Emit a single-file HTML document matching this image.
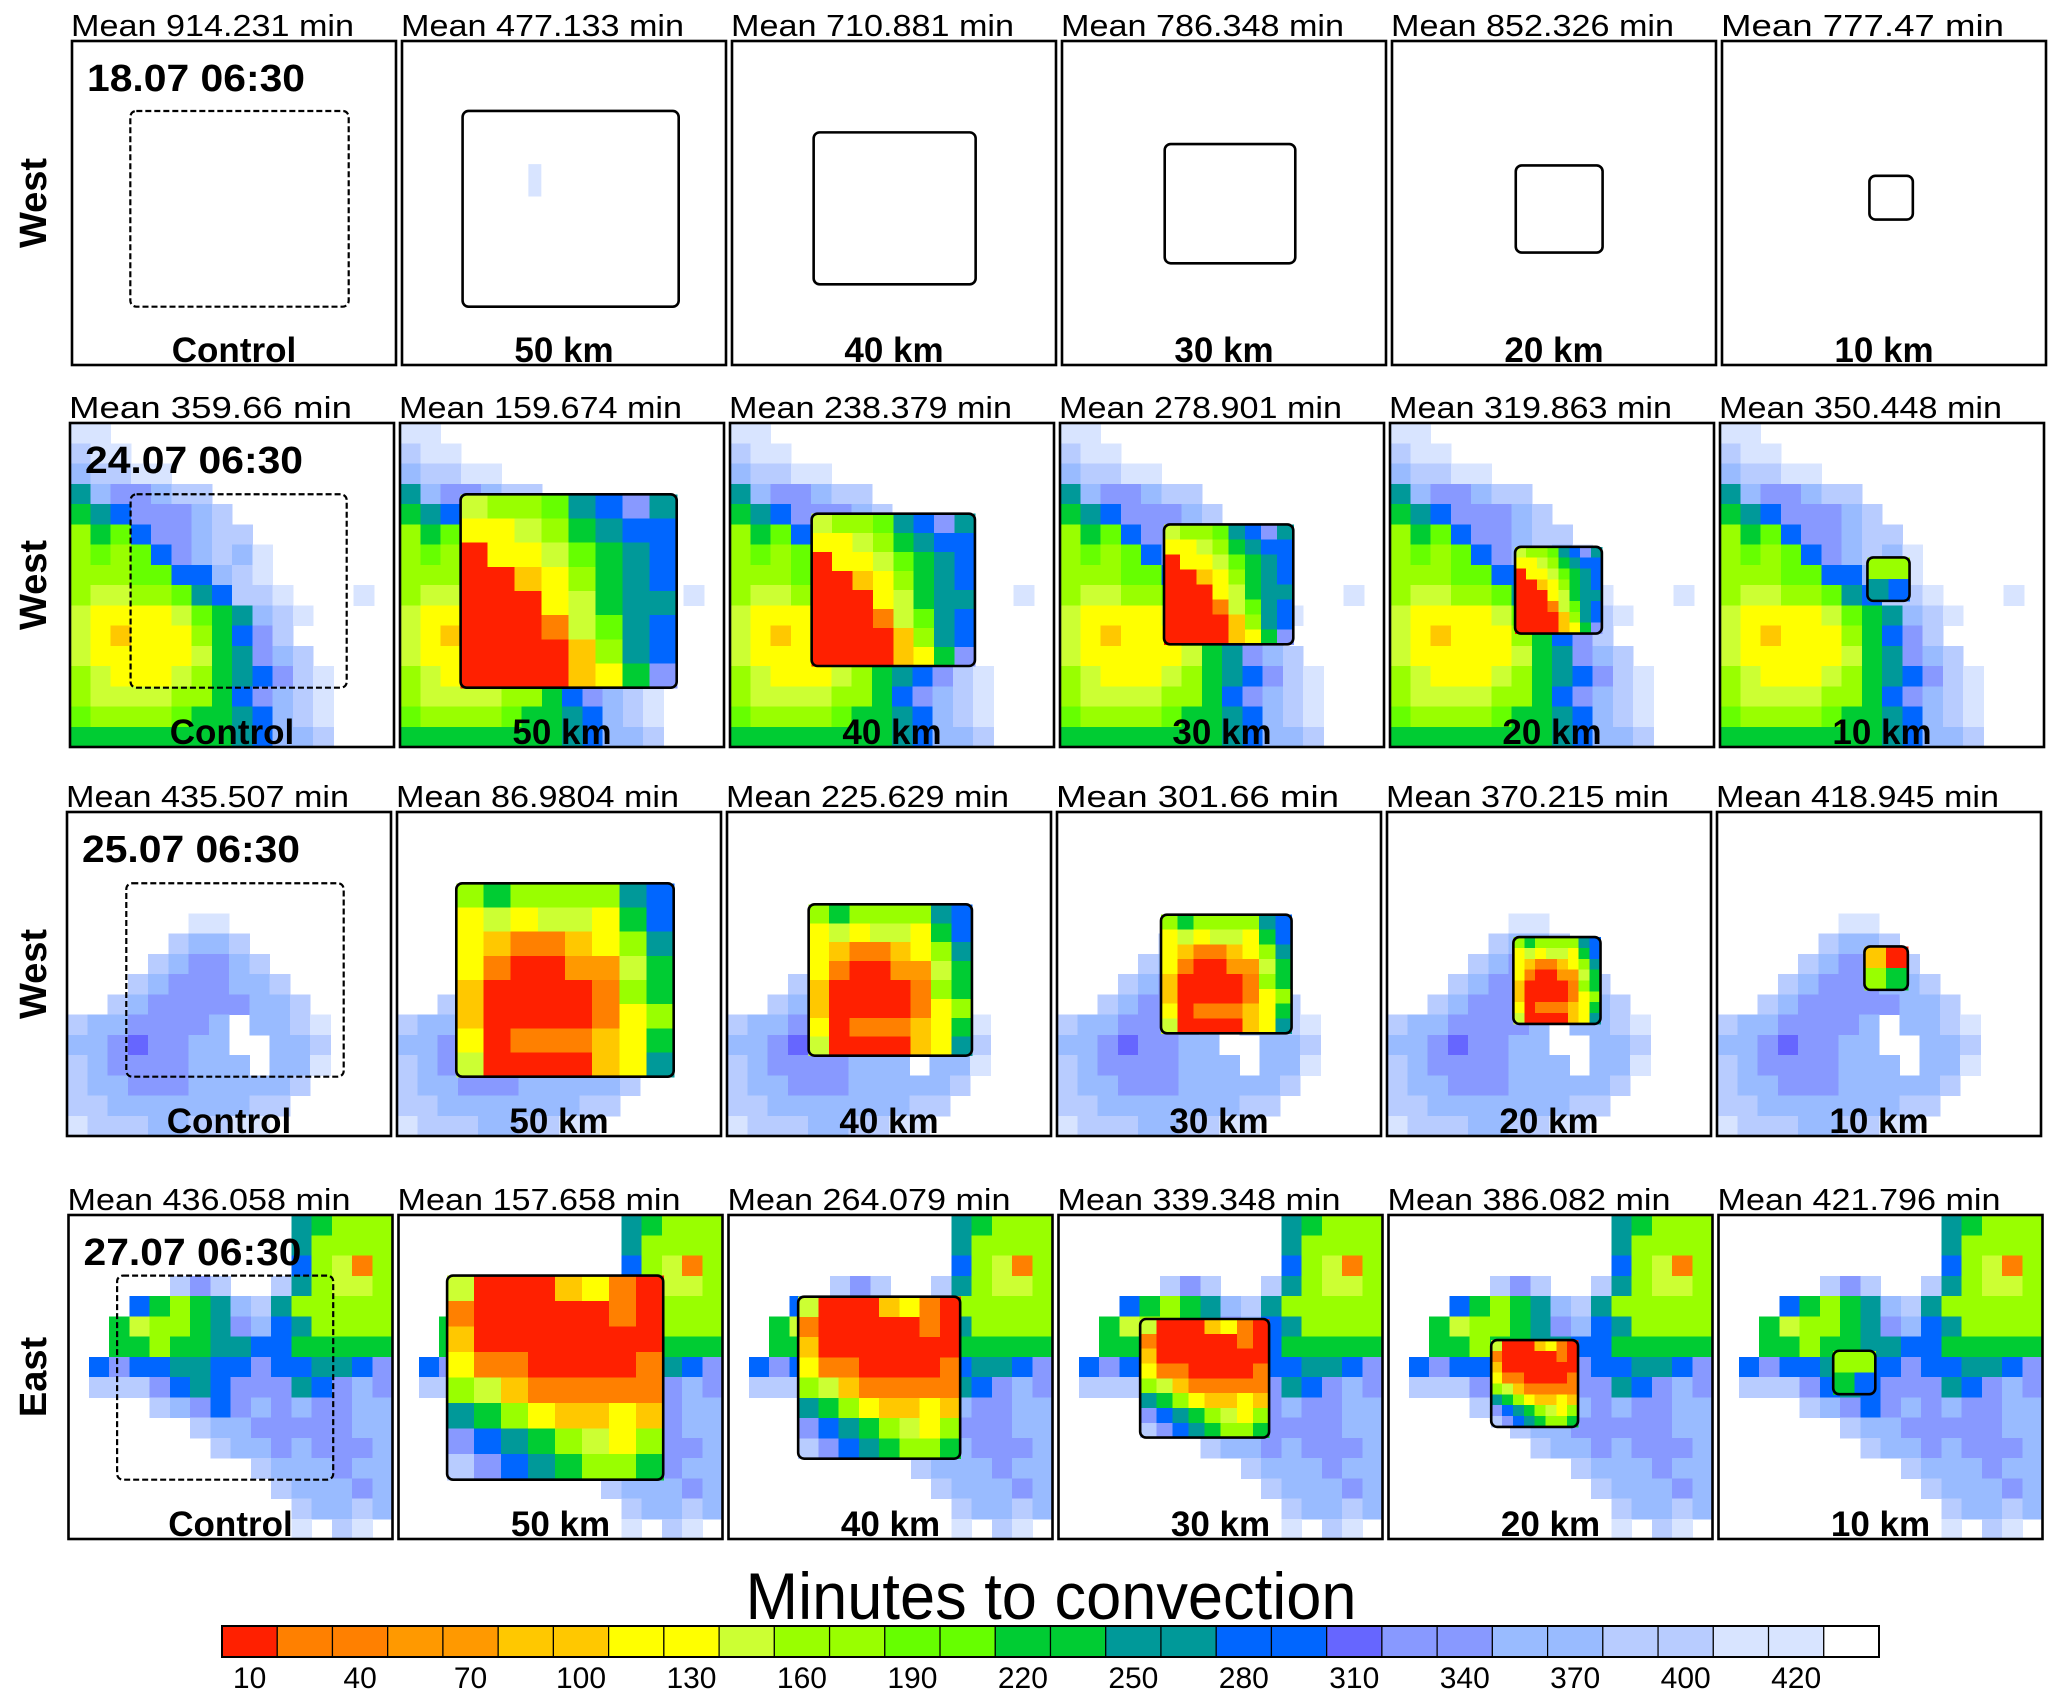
<!DOCTYPE html>
<html><head><meta charset="utf-8"><style>
html,body{margin:0;padding:0;background:#fff}
svg{display:block}
text{font-family:"Liberation Sans",sans-serif}
</style></head><body>
<svg id="fig" width="2067" height="1699" viewBox="0 0 2067 1699" xmlns="http://www.w3.org/2000/svg"></svg>
<script>
// ---- data ----
const rowDates = ["18.07 06:30","24.07 06:30","25.07 06:30","27.07 06:30"];
const rowRegions = ["West","West","West","East"];
const colLabels = ["Control","50 km","40 km","30 km","20 km","10 km"];
const means = [
 ["914.231","477.133","710.881","786.348","852.326","777.47"],
 ["359.66","159.674","238.379","278.901","319.863","350.448"],
 ["435.507","86.9804","225.629","301.66","370.215","418.945"],
 ["436.058","157.658","264.079","339.348","386.082","421.796"]
];
const cbarColors = ["#ff2000","#ff8000","#ff8000","#ff9900","#ff9900","#ffc800","#ffc800","#ffff00","#ffff00","#ccff33","#99ff00","#99ff00","#66ff00","#66ff00","#00cc33","#00cc33","#009999","#009999","#0066ff","#0066ff","#6666ff","#8899ff","#8899ff","#99bbff","#99bbff","#b8ccff","#b8ccff","#d8e4ff","#d8e4ff","#ffffff"];
const cbarTicks = ["10","40","70","100","130","160","190","220","250","280","310","340","370","400","420"];
const cellColor = {R:"#ff2000",O:"#ff8000",o:"#ff9900",A:"#ffc800",Y:"#ffff00",L:"#ccff33",G:"#99ff00",g:"#66ff00",E:"#00cc33",T:"#009999",B:"#0066ff",P:"#6666ff",p:"#8899ff",b:"#99bbff",c:"#b8ccff",d:"#d8e4ff"};
const baseFields = [
 ["................","................","................","................","................","................","................","................","................","................","................","................","................","................","................","................"],
 ["dd..............","cdd.............","bccdd...........","Tbppbcc.........","ETBpppbc........","GEgBppbcc.......","GgGgBpbcbd......","GGGggBBbcd......","GLLGGgTBccd...d.","LYYYYLgETbcd....","LYAYYYGEBpc.....","LYYYYYLETpbc....","GLYYYLGETBpcd...","GLLLLGGEBpbcd...","gGGGGgEETBbcd...","EEEEEEEETBbbc..."],
 ["................","................","................","................","................","......dd........",".....cbbc.......","....cbppbc......","...cbpppbbc.....","..cbpppppbbc....","cbbppppb.bbcd...","bbpPppbb..bbc...","cbppppbbb.bbd...","cbbpppbbbbbc....","ccbbbbbbbcc.....","dcccbbccdd......"],
 ["...........TEGGG","...........TGGGG","...........BGLOG",".....cpc..cTGLLG","...BEGETbcTGGGGG","..ELGGETpbBTGGGG","..EEGEETTBBEEEEE",".BpBBTTBBpBBTTBp",".cccpBTBpppTBpbp","....cbpBpbpbppbb","......cbbpppppbb",".......cbbpbpppb",".........cbbbpbb","..........cbbbpb","...........cbbcb","...........d.cd."]
];
const boxFields = [
 null,
 ["LGGgTBpT","YYLGETBB","RYYLgETB","RRAYGETB","RRRYLETT","RRROLgTB","RRRRAGTB","RRRRAYEp"],
 ["GEGGGGTB","YLYLLYEB","YAOOAYGT","YORRooLE","ARRRROGE","ARRRROYG","YROOOAYE","LRRRRAYT"],
 ["LRRRAYOR","ORRRRROR","ARRRRRRR","YOORRRRO","GLAOOOOO","TEGYAAYA","pBTEGLYG","cpBTEGGE"]
];
const smallBoxFields = [null,["GG","TB"],["AR","GE"],["GG","EB"]];
// box extents per row & column as fractions [x0,x1,y0,y1]
const boxes = [
 [[0.18,0.854,0.216,0.82],[0.187,0.854,0.216,0.82],[0.252,0.752,0.282,0.751],[0.317,0.72,0.318,0.686],[0.382,0.65,0.384,0.653],[0.455,0.589,0.416,0.551]],
 [[0.187,0.854,0.22,0.817],[0.187,0.854,0.22,0.817],[0.252,0.756,0.28,0.75],[0.321,0.72,0.313,0.683],[0.386,0.654,0.382,0.65],[0.455,0.585,0.415,0.549]],
 [[0.183,0.854,0.22,0.817],[0.183,0.854,0.22,0.817],[0.252,0.756,0.285,0.752],[0.321,0.724,0.317,0.683],[0.39,0.659,0.386,0.654],[0.455,0.589,0.415,0.549]],
 [[0.15,0.817,0.187,0.817],[0.15,0.817,0.187,0.817],[0.215,0.715,0.252,0.752],[0.252,0.65,0.321,0.687],[0.317,0.585,0.386,0.654],[0.354,0.484,0.419,0.553]]
];
// ---- layout ----
const NS="http://www.w3.org/2000/svg";
const svg=document.getElementById("fig");
function mk(tag,attrs,parent){const e=document.createElementNS(NS,tag);for(const k in attrs)e.setAttribute(k,attrs[k]);(parent||svg).appendChild(e);return e;}
const rowTop=[41,423,812,1215], rowLeft=[72,70,67,68.5], colStep=330, PW=324, PH=324;
rowDates.forEach((date,r)=>{
  const rl=mk("text",{x:0,y:0,"font-size":38,"font-weight":"bold","text-anchor":"middle",transform:`translate(46,${rowTop[r]+PH/2}) rotate(-90)`});
  
  
  rl.textContent=rowRegions[r];
  colLabels.forEach((lab,c)=>{
    const x0=rowLeft[r]+c*colStep, y0=rowTop[r];
    const g=mk("g",{});
    
    
    const cs=PW/16;
    const base=baseFields[r];
    base.forEach((line,i)=>{for(let j=0;j<16;j++){const ch=line[j];if(cellColor[ch]){const cell=mk("rect",{x:x0+j*cs,y:y0+i*cs,width:cs+0.6,height:cs+0.6,fill:cellColor[ch],"shape-rendering":"crispEdges"},g);
      
      }}});
    const b=boxes[r][c];
    const bx=x0+b[0]*PW, bw=(b[1]-b[0])*PW, by=y0+b[2]*PH, bh=(b[3]-b[2])*PH;
    if(c>0&&boxFields[r]){
      const grid = c===5 ? smallBoxFields[r] : boxFields[r];
      const n=grid.length, cw=bw/n, ch2=bh/n;
      grid.forEach((line,i)=>{for(let j=0;j<n;j++){const k=line[j];if(cellColor[k]){const cell=mk("rect",{x:bx+j*cw,y:by+i*ch2,width:cw+0.6,height:ch2+0.6,fill:cellColor[k],"shape-rendering":"crispEdges"},g);
        
        }}});
    }
    if(r===0&&c===1){
      const s=mk("rect",{x:x0+0.39*PW,y:y0+0.38*PH,width:0.04*PW,height:0.1*PH,fill:"#d8e4ff"},g);
      
      
    }
    const box=mk("rect",{x:bx,y:by,width:bw,height:bh,rx:6,fill:"none",stroke:"#000","stroke-width":c===0?2.2:2.6,"stroke-dasharray":c===0?"6,3":"none"},g);
    
    
    const fr=mk("rect",{x:x0,y:y0,width:PW,height:PH,fill:"none",stroke:"#000","stroke-width":2.6},g);
    
    
    const mt=mk("text",{x:x0-1,y:y0-5,"font-size":31,textLength:283,lengthAdjust:"spacingAndGlyphs"});
    
    
    mt.textContent="Mean "+means[r][c]+" min";
    const pl=mk("text",{x:x0+PW/2,y:y0+PH-3,"font-size":35,"font-weight":"bold","text-anchor":"middle"});
    
    
    pl.textContent=lab;
    if(c===0){
      const dl=mk("text",{x:x0+15,y:y0+50,"font-size":38,"font-weight":"bold",textLength:218,lengthAdjust:"spacingAndGlyphs"});
      
      
      dl.textContent=date;
    }
  });
});
// ---- colorbar ----
const cbX=222, cbW=1657, cbY=1626, cbH=31, bw=cbW/cbarColors.length;
const ct=mk("text",{x:1051,y:1619,"font-size":66,"text-anchor":"middle",textLength:611,lengthAdjust:"spacingAndGlyphs"});


ct.textContent="Minutes to convection";
cbarColors.forEach((col,i)=>{
  const r=mk("rect",{x:cbX+i*bw,y:cbY,width:bw,height:cbH,fill:col,stroke:"#000","stroke-width":1.2});
  
  
});
const cbo=mk("rect",{x:cbX,y:cbY,width:cbW,height:cbH,fill:"none",stroke:"#000","stroke-width":2});


cbarTicks.forEach((t,i)=>{
  const tx=mk("text",{x:cbX+(2*i+0.5)*bw,y:1688,"font-size":30,"text-anchor":"middle"});
  
  
  tx.textContent=t;
});
</script>
</body></html>
